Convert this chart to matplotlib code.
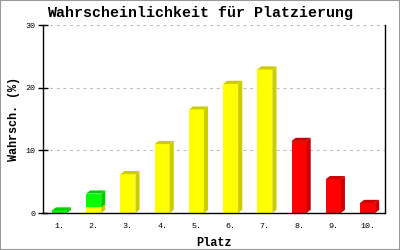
import matplotlib
matplotlib.use('Agg')
import numpy as np
import matplotlib.pyplot as plt
from matplotlib.patches import Polygon, Rectangle

#---------------------------------------------
#data (percent per place)
#---------------------------------------------
places = ['1.', '2.', '3.', '4.', '5.', '6.', '7.', '8.', '9.', '10.']
yellow_vals = [0, 0.9, 6.2, 11.0, 16.5, 20.6, 22.9, 0, 0, 0]
green_vals = [0.4, 2.2, 0, 0, 0, 0, 0, 0, 0, 0]
red_vals = [0, 0, 0, 0, 0, 0, 0, 11.5, 5.4, 1.6]

#series in stacking order: values, front colour, shade colour
series = [(yellow_vals, '#ffff00', '#cccc00'),
          (green_vals, '#00ff00', '#00cc00'),
          (red_vals, '#ff0000', '#cc0000')]

MONO = 'Liberation Mono'
W = 0.44      # bar width
DX = 0.12     # depth offset in x (data units)
DY = 0.5      # depth offset in y (data units)

fig = plt.figure(figsize=(4, 2.5), dpi=100)
ax = fig.add_axes([0.1075, 0.148, 0.855, 0.752])

x = np.arange(1, len(places) + 1)
bottom = np.zeros(len(places))

def bar3d(ax, xc, b, h, face, shade):
	#front face
	ax.bar(xc, h, W, bottom=b, color=face, linewidth=0, zorder=3)
	r = xc + W / 2
	l = xc - W / 2
	top = b + h
	side = Polygon([(r, b), (r + DX, b + DY), (r + DX, top + DY), (r, top)],
		closed=True, facecolor=shade, edgecolor='none', zorder=3)
	cap = Polygon([(l, top), (l + DX, top + DY), (r + DX, top + DY), (r, top)],
		closed=True, facecolor=shade, edgecolor='none', zorder=3)
	ax.add_patch(side)
	ax.add_patch(cap)

for vals, face, shade in series:
	for i in range(len(places)):
		if vals[i] > 0:
			bar3d(ax, x[i], bottom[i], vals[i], face, shade)
	bottom = bottom + np.array(vals)

ax.set_xlim(0.52, 10.51)
ax.set_ylim(0, 30)
ax.set_yticks([0, 10, 20, 30])
ax.set_xticks(x)
ax.set_xticklabels(places, fontfamily=MONO, fontsize=6)
for lab in ax.get_yticklabels():
	lab.set_fontfamily(MONO)
	lab.set_fontsize(6)

ax.tick_params(axis='y', direction='inout', length=7, width=1, pad=2)
ax.tick_params(axis='x', length=0, pad=7)
ax.yaxis.grid(True, color='#bbbbbb', linestyle=(0, (2.5, 3.5)), linewidth=0.8)
ax.set_axisbelow(True)

ax.spines['top'].set_visible(False)
for s in ['left', 'right', 'bottom']:
	ax.spines[s].set_color('black')
	ax.spines[s].set_linewidth(1)
	ax.spines[s].set_zorder(4)

fig.text(0.5, 0.948, 'Wahrscheinlichkeit für Platzierung', ha='center', va='center',
	fontfamily=MONO, fontweight='bold', fontsize=10.8)
ax.set_xlabel('Platz', fontfamily=MONO, fontweight='bold', fontsize=8.6, labelpad=5)
ax.set_ylabel('Wahrsch. (%)', fontfamily=MONO, fontweight='bold', fontsize=8.5, labelpad=4)

#grey frame round the picture
fig.patches.append(Rectangle((0, 0), 1, 1, transform=fig.transFigure, fill=False,
	edgecolor='#999999', linewidth=1.5))

fig.savefig('out.png', dpi=100)
